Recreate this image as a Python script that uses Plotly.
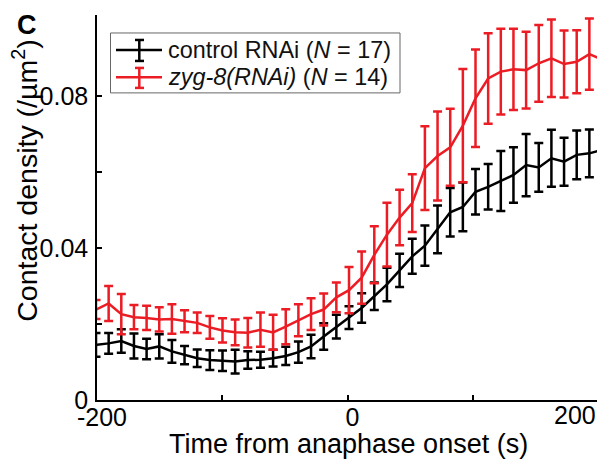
import plotly.graph_objects as go

# ---- data ----
time_s = [-200.8, -190.7, -180.6, -170.5, -160.4, -150.3, -140.2, -130.1, -120.0, -109.9,
          -99.8, -89.7, -79.6, -69.5, -59.4, -49.3, -39.2, -29.1, -19.0, -8.9,
          1.2, 11.3, 21.4, 31.5, 41.6, 51.7, 61.8, 71.9, 82.0, 92.1,
          102.2, 112.3, 122.4, 132.5, 142.6, 152.7, 162.8, 172.9, 183.0, 193.1, 203.2]

control_mean = [0.0145, 0.0149, 0.0155, 0.0142, 0.0134, 0.0141, 0.0128, 0.0118, 0.0110, 0.0105,
                0.0103, 0.0101, 0.0105, 0.0106, 0.0110, 0.0116, 0.0126, 0.0141, 0.0167, 0.0193,
                0.0217, 0.0242, 0.0273, 0.0304, 0.0341, 0.0378, 0.0406, 0.0449, 0.0494, 0.0508,
                0.0548, 0.0561, 0.0576, 0.0592, 0.0618, 0.0612, 0.0636, 0.0627, 0.0645, 0.0649, 0.0658]
control_sem = [0.0031, 0.0027, 0.0031, 0.0033, 0.0027, 0.0032, 0.0030, 0.0024, 0.0023, 0.0026,
               0.0027, 0.0031, 0.0023, 0.0021, 0.0022, 0.0024, 0.0028, 0.0031, 0.0035, 0.0031,
               0.0030, 0.0039, 0.0036, 0.0044, 0.0044, 0.0046, 0.0053, 0.0063, 0.0064, 0.0064,
               0.0060, 0.0060, 0.0079, 0.0073, 0.0082, 0.0064, 0.0075, 0.0063, 0.0064, 0.0063, 0.0065]

zyg8_mean = [0.0238, 0.0254, 0.0226, 0.0218, 0.0216, 0.0212, 0.0213, 0.0207, 0.0203, 0.0191,
             0.0183, 0.0178, 0.0177, 0.0185, 0.0178, 0.0193, 0.0210, 0.0226, 0.0238, 0.0270,
             0.0289, 0.0322, 0.0382, 0.0435, 0.0480, 0.0518, 0.0610, 0.0642, 0.0665, 0.0722,
             0.0794, 0.0846, 0.0864, 0.0870, 0.0868, 0.0886, 0.0899, 0.0884, 0.0890, 0.0910, 0.0896]
zyg8_sem = [0.0025, 0.0046, 0.0053, 0.0032, 0.0032, 0.0032, 0.0039, 0.0029, 0.0027, 0.0030,
            0.0032, 0.0034, 0.0039, 0.0045, 0.0046, 0.0046, 0.0042, 0.0042, 0.0042, 0.0039,
            0.0061, 0.0069, 0.0075, 0.0084, 0.0073, 0.0076, 0.0110, 0.0117, 0.0101, 0.0149,
            0.0128, 0.0119, 0.0113, 0.0107, 0.0101, 0.0101, 0.0102, 0.0088, 0.0083, 0.0094, 0.0095]

x_tickvals = [-200, -100, 0, 100, 200]
x_ticktext = ["-200", "", "0", "", ""]   # the "200" label is placed flush with the axis end below
x_last_label = "200"
y_tickvals = [0, 0.02, 0.04, 0.06, 0.08]
y_ticktext = ["0", "", "0.04", "", "0.08"]

series_names = ["control RNAi (<i>N</i> = 17)", "<i>zyg-8(RNAi)</i> (<i>N</i> = 14)"]
BLACK = "#000000"
RED = "#ec1c24"

# ---- layout geometry (page body has an 8 px margin) ----
OFF = 8
W, H = 605 - OFF, 464 - OFF
PLOT_L, PLOT_R, PLOT_T, PLOT_B = 97, 598, 15, 400.5   # target screen pixels
ML = PLOT_L - OFF
MT = PLOT_T - OFF
MR = W - (PLOT_R - OFF)
MB = H - (PLOT_B - OFF)
PW, PH = PLOT_R - PLOT_L, PLOT_B - PLOT_T


def px(xs):
    return (xs - PLOT_L) / PW


def py(ys):
    return (PLOT_B - ys) / PH


FONT = "Arial, Liberation Sans, sans-serif"

fig = go.Figure()
for mean, sem, color, name in [(control_mean, control_sem, BLACK, series_names[0]),
                               (zyg8_mean, zyg8_sem, RED, series_names[1])]:
    fig.add_trace(go.Scatter(
        x=time_s, y=mean, mode="lines", name=name,
        line=dict(color=color, width=2.5),
        error_y=dict(type="data", array=sem, visible=True, color=color,
                     thickness=2.5, width=4.5),
        showlegend=False,
    ))

shapes = []
annotations = []

# legend box
shapes.append(dict(type="rect", xref="paper", yref="paper",
                   x0=px(110.5), x1=px(400), y0=py(93), y1=py(33),
                   line=dict(color="#666666", width=1), fillcolor="white", layer="above"))
for (yc, ytop, ybot, color, name) in [(50, 40, 61, BLACK, series_names[0]),
                                      (77.3, 68, 88, RED, series_names[1])]:
    shapes.append(dict(type="line", xref="paper", yref="paper",
                       x0=px(116), x1=px(162), y0=py(yc), y1=py(yc),
                       line=dict(color=color, width=2.5), layer="above"))
    shapes.append(dict(type="line", xref="paper", yref="paper",
                       x0=px(139.3), x1=px(139.3), y0=py(ytop), y1=py(ybot),
                       line=dict(color=color, width=2.5), layer="above"))
    for yy in (ytop, ybot):
        shapes.append(dict(type="line", xref="paper", yref="paper",
                           x0=px(135), x1=px(144), y0=py(yy), y1=py(yy),
                           line=dict(color=color, width=2.5), layer="above"))
    annotations.append(dict(xref="paper", yref="paper", x=px(166), y=py(yc),
                            xanchor="left", yanchor="middle", showarrow=False,
                            text=name, font=dict(family=FONT, size=23.4, color="#111111")))

# panel label
annotations.append(dict(xref="paper", yref="paper", x=px(27), y=py(25),
                        xanchor="center", yanchor="middle", showarrow=False,
                        text="<b>C</b>", font=dict(family=FONT, size=27, color="black")))
# y title
annotations.append(dict(xref="paper", yref="paper", x=px(25), y=py(181),
                        xanchor="center", yanchor="middle", showarrow=False, textangle=-90,
                        text="Contact density (/µm<sup>2</sup>)",
                        font=dict(family=FONT, size=28.5, color="black")))
# x title
annotations.append(dict(xref="paper", yref="paper", x=px(348.5), y=py(445),
                        xanchor="center", yanchor="middle", showarrow=False,
                        text="Time from anaphase onset (s)",
                        font=dict(family=FONT, size=27, color="black")))
# last x tick label, flush with the right end of the axis
annotations.append(dict(xref="x", yref="paper", x=x_tickvals[-1], y=py(416),
                        xanchor="right", yanchor="middle", showarrow=False,
                        text=x_last_label, font=dict(family=FONT, size=25, color="black")))

fig.update_layout(
    width=W, height=H,
    margin=dict(l=ML, r=MR, t=MT, b=MB, pad=0, autoexpand=False),
    paper_bgcolor="white", plot_bgcolor="white",
    font=dict(family=FONT, size=25, color="black"),
    showlegend=False,
    shapes=shapes, annotations=annotations,
    xaxis=dict(range=[-200, 200], tickvals=x_tickvals, ticktext=x_ticktext,
               ticks="inside", ticklen=5, tickwidth=1.5, tickcolor="black",
               showline=True, linewidth=1.5, linecolor="black",
               showgrid=False, zeroline=False, automargin=False,
               ticklabelstandoff=-6, ticklabelshift=5,
               tickfont=dict(family=FONT, size=25, color="black")),
    yaxis=dict(range=[0, 0.1013], tickvals=y_tickvals, ticktext=y_ticktext,
               ticks="inside", ticklen=5, tickwidth=1.5, tickcolor="black",
               showline=True, linewidth=1.5, linecolor="black",
               showgrid=False, zeroline=False, automargin=False,
               ticklabelstandoff=2,
               tickfont=dict(family=FONT, size=25, color="black")),
)

fig.write_html("out.html")
